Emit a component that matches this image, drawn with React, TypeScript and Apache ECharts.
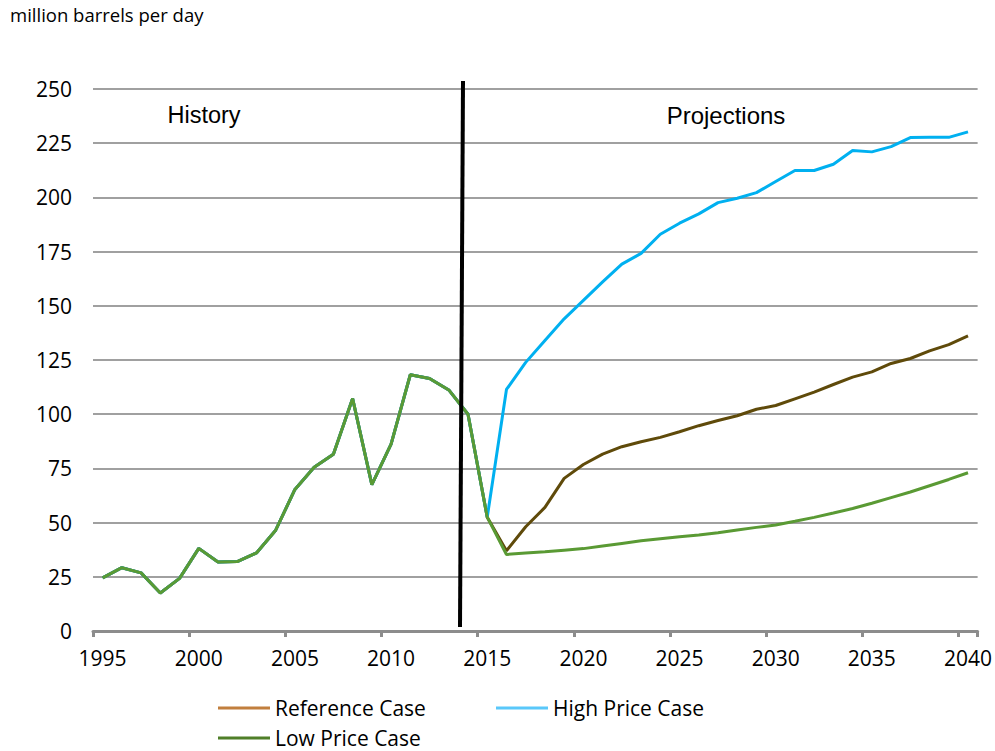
import React, { useEffect, useRef } from "react";
import * as echarts from "echarts";

const years = [
  "1995", "1996", "1997", "1998", "1999", "2000", "2001", "2002", "2003", "2004",
  "2005", "2006", "2007", "2008", "2009", "2010", "2011", "2012", "2013", "2014",
  "2015", "2016", "2017", "2018", "2019", "2020", "2021", "2022", "2023", "2024",
  "2025", "2026", "2027", "2028", "2029", "2030", "2031", "2032", "2033", "2034",
  "2035", "2036", "2037", "2038", "2039", "2040",
];

// 1995-2015
const history = [
  24.5, 29.2, 26.8, 17.5, 24.3, 38.1, 31.8, 32.0, 36.0, 46.5,
  65.3, 75.5, 81.5, 107.2, 67.5, 86.2, 118.2, 116.5, 111.2, 100.0, 52.5,
];

// 2016-2040
const referenceCase = [
  37.0, 48.1, 57.0, 70.4, 76.8, 81.6, 85.0, 87.3, 89.3, 91.9,
  94.7, 97.1, 99.3, 102.3, 104.0, 107.1, 110.2, 113.7, 117.1, 119.5,
  123.4, 125.7, 129.2, 132.1, 136.1,
];
const highPriceCase = [
  111.4, 123.9, 134.0, 144.0, 152.5, 161.0, 169.2, 174.2, 183.0, 188.1,
  192.4, 197.6, 199.6, 202.2, 207.3, 212.4, 212.4, 215.3, 221.6, 221.0,
  223.4, 227.6, 227.7, 227.7, 230.2,
];
const lowPriceCase = [
  35.3, 36.0, 36.6, 37.3, 38.0, 39.2, 40.4, 41.6, 42.6, 43.5,
  44.3, 45.3, 46.6, 47.8, 48.9, 50.6, 52.4, 54.4, 56.5, 58.9,
  61.5, 64.1, 67.0, 69.9, 73.0,
];

const yTicks = { min: 0, max: 250, interval: 25 };

const FONT = "'Open Sans', 'Noto Sans', sans-serif";
const ARIAL = "'Liberation Sans', Arial, sans-serif";

export default function App() {
  const ref = useRef<HTMLDivElement>(null);

  useEffect(() => {
    document.body.style.margin = "0";
    if (!ref.current) return;
    const chart = echarts.init(ref.current, null, { renderer: "svg" });

    const mkLegend = (name: string, color: string, left: number, top: number) => ({
      show: true,
      left,
      top,
      padding: 0,
      orient: "horizontal",
      icon: "rect",
      itemWidth: 52,
      itemHeight: 3,
      selectedMode: false,
      textStyle: { fontFamily: FONT, fontSize: 21, color: "#000", lineHeight: 22 },
      data: [{ name, itemStyle: { color, borderWidth: 0 } }],
    });

    const lineSeries = (name: string, proj: number[], color: string) => ({
      name,
      type: "line",
      data: history.concat(proj),
      showSymbol: false,
      symbol: "none",
      lineStyle: { color, width: 3 },
      itemStyle: { color },
    });

    chart.setOption({
      animation: false,
      backgroundColor: "#fff",
      grid: { left: 93, right: 15, top: 89, bottom: 120 },
      legend: [
        mkLegend("Reference Case", "#C17F3E", 218, 697),
        mkLegend("High Price Case", "#5AC8FA", 496, 697),
        mkLegend("Low Price Case", "#4F7F28", 218, 727),
      ],
      xAxis: {
        type: "category",
        data: years,
        boundaryGap: true,
        axisLine: { show: true, lineStyle: { color: "#8c8c8c", width: 3 } },
        axisTick: { show: true, interval: 4, length: 6, lineStyle: { color: "#8c8c8c", width: 3 } },
        axisLabel: {
          interval: 4,
          margin: 16,
          fontFamily: FONT,
          fontSize: 21,
          color: "#000",
        },
        splitLine: { show: false },
      },
      yAxis: {
        type: "value",
        min: yTicks.min,
        max: yTicks.max,
        interval: yTicks.interval,
        axisLine: { show: false },
        axisTick: { show: false },
        axisLabel: { margin: 21, fontFamily: FONT, fontSize: 21, color: "#000" },
        splitLine: { show: true, lineStyle: { color: "#a0a0a0", width: 2 } },
      },
      series: [
        lineSeries("Reference Case", referenceCase, "#5F4A0A"),
        lineSeries("High Price Case", highPriceCase, "#00B0F0"),
        lineSeries("Low Price Case", lowPriceCase, "#5A9A34"),
      ],
      graphic: [
        {
          type: "text",
          left: 10,
          top: 5,
          style: { text: "million barrels per day", fontFamily: FONT, fontSize: 18.5, fill: "#000" },
        },
        {
          type: "text",
          x: 204,
          y: 115,
          style: {
            text: "History",
            fontFamily: ARIAL,
            fontSize: 23.5,
            fill: "#000",
            align: "center",
            verticalAlign: "middle",
          },
        },
        {
          type: "text",
          x: 726,
          y: 115,
          style: {
            text: "Projections",
            fontFamily: ARIAL,
            fontSize: 24,
            fill: "#000",
            align: "center",
            verticalAlign: "middle",
          },
        },
        {
          type: "line",
          shape: { x1: 463, y1: 81, x2: 460, y2: 627 },
          style: { stroke: "#000", lineWidth: 4 },
          z: 100,
        },
      ],
    });

    return () => chart.dispose();
  }, []);

  return <div ref={ref} style={{ width: 995, height: 751 }} />;
}
